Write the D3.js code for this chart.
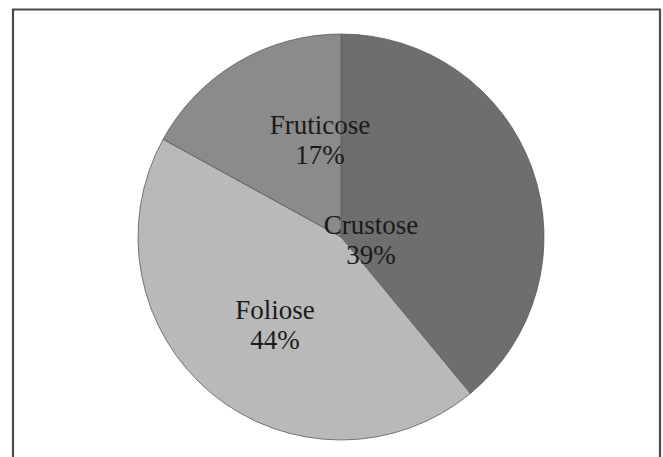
<!DOCTYPE html>
<html>
<head>
<meta charset="utf-8">
<script src="https://cdn.jsdelivr.net/npm/d3@7"></script>
<style>
  html, body { margin: 0; padding: 0; background: #fff; }
  svg { display: block; }
</style>
</head>
<body>
<svg id="chart" width="663" height="457"></svg>
<script>
// Lichen growth forms, share of species (%)
const categories = ["Crustose", "Foliose", "Fruticose"];
const shares = [39, 44, 17];
const fills = ["#6e6e6e", "#b9b9b9", "#8b8b8b"];

// Label placement: first-line baseline, as fractions of the radius from the centre
const labelOffset = [[0.148, -0.015], [-0.325, 0.404], [-0.103, -0.507]];

const svg = d3.select("#chart");
const W = 663, H = 457;

// Chart frame (open at the bottom edge)
svg.append("path")
  .attr("d", `M13,${H + 2} L13,9.5 L660,9.5 L660,${H + 2}`)
  .attr("fill", "none")
  .attr("stroke", "#4a4a4a")
  .attr("stroke-width", 2.2);

const cx = 341, cy = 237, r = 203;

const pie = d3.pie().sort(null).value(d => d.v);
const arcs = pie(categories.map((c, i) => ({ c, v: shares[i], i })));
const arc = d3.arc().innerRadius(0).outerRadius(r);

const g = svg.append("g").attr("transform", `translate(${cx},${cy})`);

g.selectAll("path.slice")
  .data(arcs)
  .join("path")
  .attr("class", "slice")
  .attr("d", arc)
  .attr("fill", d => fills[d.data.i])
  .attr("stroke", "#5a5a5a")
  .attr("stroke-width", 0.8);

// Category name and percentage inside each slice
const labels = g.selectAll("text.lbl")
  .data(arcs)
  .join("text")
  .attr("class", "lbl")
  .attr("text-anchor", "middle")
  .attr("font-family", "'Liberation Serif', 'Times New Roman', serif")
  .attr("font-size", 27)
  .attr("fill", "#1a1a1a")
  .attr("transform", d => {
    const [fx, fy] = labelOffset[d.data.i];
    return `translate(${fx * r},${fy * r})`;
  });

labels.append("tspan")
  .attr("x", 0).attr("dy", 0)
  .text(d => d.data.c);
labels.append("tspan")
  .attr("x", 0).attr("dy", 30)
  .text(d => d.data.v + "%");
</script>
</body>
</html>
